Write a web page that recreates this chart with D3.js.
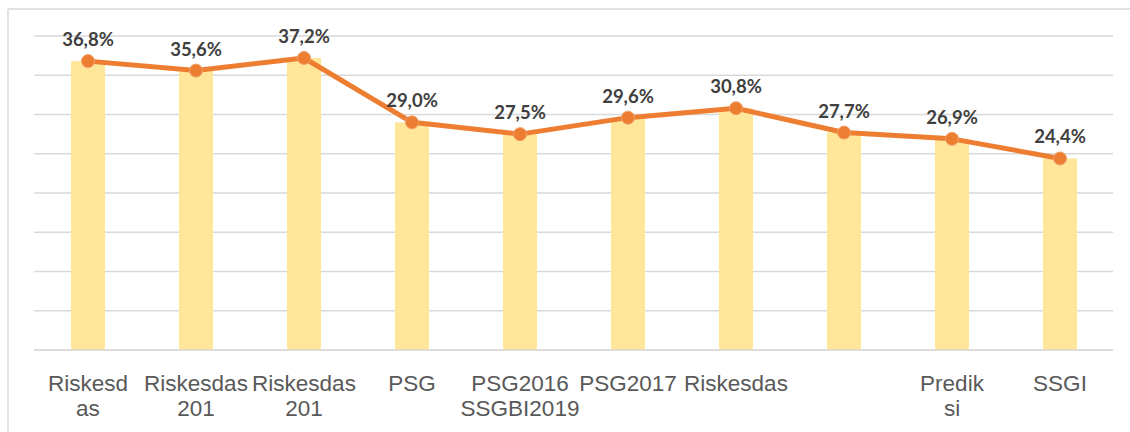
<!DOCTYPE html>
<html>
<head>
<meta charset="utf-8">
<script src="https://cdn.jsdelivr.net/npm/d3@7"></script>
<style>
  body { margin: 0; background: #fff; }
  svg { display: block; }
</style>
</head>
<body>
<svg id="chart"></svg>
<script>
// categories (as they show in the picture, wrapped into lines)
var categories = [
  ["Riskesd", "as"],
  ["Riskesdas", "201"],
  ["Riskesdas", "201"],
  ["PSG"],
  ["PSG2016", "SSGBI2019"],
  ["PSG2017"],
  ["Riskesdas"],
  [""],
  ["Predik", "si"],
  ["SSGI"]
];
var values = [36.8, 35.6, 37.2, 29.0, 27.5, 29.6, 30.8, 27.7, 26.9, 24.4];
var yTicks = [0, 5, 10, 15, 20, 25, 30, 35, 40];

var screen = { width: 1130, height: 432 };
var plot = { left: 34, right: 1114, top: 36, bottom: 350 };

var svg = d3.select("#chart")
  .attr("width", screen.width)
  .attr("height", screen.height);

// chart frame (top and left edges visible)
svg.append("line")
  .attr("x1", 8).attr("x2", screen.width)
  .attr("y1", 9).attr("y2", 9)
  .attr("stroke", "#d9d9d9").attr("stroke-width", 1.5);
svg.append("line")
  .attr("x1", 8).attr("x2", 8)
  .attr("y1", 9).attr("y2", screen.height)
  .attr("stroke", "#d9d9d9").attr("stroke-width", 1.5);

var idx = d3.range(values.length);

var xScale = d3.scaleBand()
  .domain(idx)
  .range([plot.left, plot.right])
  .paddingInner(0.685)
  .paddingOuter(0.3425);

var yScale = d3.scaleLinear()
  .domain([0, 40])
  .range([plot.bottom, plot.top]);

var center = function(i) { return xScale(i) + xScale.bandwidth() / 2; };

// gridlines
svg.append("g")
  .selectAll("line")
  .data(yTicks)
  .enter()
  .append("line")
  .attr("x1", plot.left)
  .attr("x2", plot.right - 1)
  .attr("y1", function(d) { return yScale(d); })
  .attr("y2", function(d) { return yScale(d); })
  .attr("stroke", "#d9d9d9")
  .attr("stroke-width", 1.5);

// bars
svg.append("g")
  .selectAll("rect")
  .data(values)
  .enter()
  .append("rect")
  .attr("x", function(d, i) { return xScale(i); })
  .attr("y", function(d) { return yScale(d); })
  .attr("width", xScale.bandwidth())
  .attr("height", function(d) { return yScale(0) - yScale(d); })
  .attr("fill", "#ffe699");

// baseline over bars
svg.append("line")
  .attr("x1", plot.left).attr("x2", plot.right - 1)
  .attr("y1", yScale(0)).attr("y2", yScale(0))
  .attr("stroke", "#d9d9d9").attr("stroke-width", 1.5);

// line
var line = d3.line()
  .x(function(d, i) { return center(i); })
  .y(function(d) { return yScale(d); });

svg.append("path")
  .datum(values)
  .attr("d", line)
  .attr("fill", "none")
  .attr("stroke", "#ed7d31")
  .attr("stroke-width", 5)
  .attr("stroke-linejoin", "round");

svg.append("g")
  .selectAll("circle")
  .data(values)
  .enter()
  .append("circle")
  .attr("cx", function(d, i) { return center(i); })
  .attr("cy", function(d) { return yScale(d); })
  .attr("r", 6.5)
  .attr("fill", "#ed7d31")
  .attr("stroke", "#f0a06a")
  .attr("stroke-width", 1);

// data labels
svg.append("g")
  .selectAll("text")
  .data(values)
  .enter()
  .append("text")
  .attr("x", function(d, i) { return center(i); })
  .attr("y", function(d) { return yScale(d) - 15; })
  .attr("text-anchor", "middle")
  .attr("font-family", "Lato, 'Open Sans', sans-serif")
  .attr("font-weight", "bold")
  .attr("font-size", "18.5px")
  .attr("fill", "#404040")
  .text(function(d) { return d.toFixed(1).replace(".", ",") + "%"; });

// category labels
var catG = svg.append("g")
  .selectAll("text")
  .data(categories)
  .enter()
  .append("text")
  .attr("text-anchor", "middle")
  .attr("font-family", "'Liberation Sans', Arial, sans-serif")
  .attr("font-size", "22.5px")
  .attr("fill", "#595959");

catG.selectAll("tspan")
  .data(function(d, i) { return d.map(function(s) { return { s: s, i: i }; }); })
  .enter()
  .append("tspan")
  .attr("x", function(d) { return center(d.i); })
  .attr("y", function(d, j) { return 391 + j * 25; })
  .text(function(d) { return d.s; });
</script>
</body>
</html>
